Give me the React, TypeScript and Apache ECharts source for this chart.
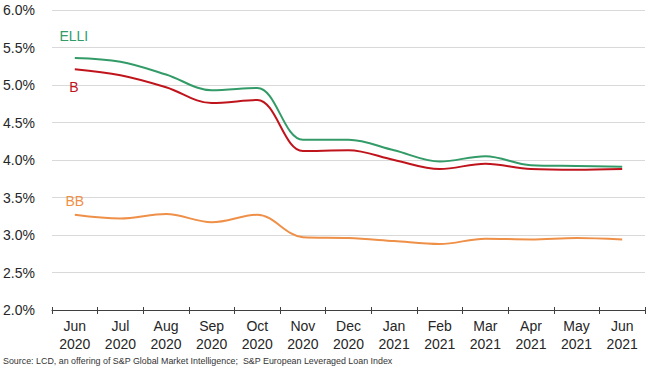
import React, { useEffect, useRef } from "react";
import * as echarts from "echarts";

const categories = [
  "Jun\n2020", "Jul\n2020", "Aug\n2020", "Sep\n2020", "Oct\n2020", "Nov\n2020", "Dec\n2020",
  "Jan\n2021", "Feb\n2021", "Mar\n2021", "Apr\n2021", "May\n2021", "Jun\n2021",
];
const elliValues = [5.36, 5.31, 5.14, 4.93, 4.96, 4.27, 4.27, 4.13, 3.98, 4.05, 3.93, 3.92, 3.91];
const bValues = [5.21, 5.13, 4.97, 4.76, 4.8, 4.12, 4.13, 4.0, 3.88, 3.95, 3.88, 3.87, 3.88];
const bbValues = [3.27, 3.22, 3.28, 3.17, 3.27, 2.97, 2.96, 2.92, 2.88, 2.95, 2.94, 2.96, 2.94];
const seriesNames = ["ELLI", "B", "BB"];
const sourceText =
  "Source: LCD, an offering of S&P Global Market Intelligence;  S&P European Leveraged Loan Index";

const FONT = "Liberation Sans, Arial, sans-serif";
const GREEN = "#339b68";
const RED = "#c0141c";
const ORANGE = "#ef9048";

export default function App() {
  const ref = useRef<HTMLDivElement>(null);
  useEffect(() => {
    if (!ref.current) return;
    const chart = echarts.init(ref.current, undefined, { renderer: "svg" });
    const lineSeries = (name: string, data: number[], color: string) => ({
      name,
      type: "line",
      data,
      smooth: 0.35,
      smoothConstraint: false,
      symbol: "none",
      xAxisIndex: 0,
      lineStyle: { color, width: 2 },
      itemStyle: { color },
    });
    chart.setOption({
      animation: false,
      backgroundColor: "#ffffff",
      grid: { left: 52, right: 7, top: 10, bottom: 62, containLabel: false },
      xAxis: [
        {
          type: "category",
          data: categories,
          boundaryGap: true,
          axisLine: { lineStyle: { color: "#404040", width: 1 } },
          axisTick: { show: true, length: 4, lineStyle: { color: "#404040" } },
          axisLabel: {
            color: "#262626",
            fontSize: 14,
            fontFamily: FONT,
            lineHeight: 18,
            margin: 7,
            interval: 0,
          },
        },
        {
          type: "category",
          data: categories,
          boundaryGap: true,
          position: "bottom",
          axisLine: { show: false },
          axisTick: { show: true, inside: true, length: 3, lineStyle: { color: "#404040" } },
          axisLabel: { show: false },
          splitLine: { show: false },
        },
      ],
      yAxis: {
        type: "value",
        min: 2,
        max: 6,
        interval: 0.5,
        axisLine: { show: false },
        axisTick: { show: false },
        axisLabel: {
          formatter: (v: number) => v.toFixed(1) + "%",
          color: "#262626",
          fontSize: 14,
          fontFamily: FONT,
          margin: 17,
        },
        splitLine: { lineStyle: { color: "#d9d9d9", width: 1 } },
      },
      series: [
        lineSeries("BB", bbValues, ORANGE),
        lineSeries("B", bValues, RED),
        lineSeries("ELLI", elliValues, GREEN),
      ],
    });

    const pE = chart.convertToPixel({ xAxisIndex: 0, yAxisIndex: 0 }, [0, elliValues[0]]) as number[];
    const pB = chart.convertToPixel({ xAxisIndex: 0, yAxisIndex: 0 }, [0, bValues[0]]) as number[];
    const pBB = chart.convertToPixel({ xAxisIndex: 0, yAxisIndex: 0 }, [0, bbValues[0]]) as number[];
    const lbl = (text: string, x: number, y: number, color: string) => ({
      type: "text",
      x,
      y,
      style: {
        text,
        fill: color,
        font: `14px ${FONT}`,
        textAlign: "center",
        textVerticalAlign: "middle",
      },
    });
    chart.setOption({
      graphic: [
        lbl(seriesNames[0], pE[0] - 1, pE[1] - 22, GREEN),
        lbl(seriesNames[1], pB[0] - 1, pB[1] + 18, RED),
        lbl(seriesNames[2], pBB[0], pBB[1] - 14, ORANGE),
        {
          type: "text",
          left: 3,
          top: 356,
          style: {
            text: sourceText,
            fill: "#333333",
            font: `8.9px ${FONT}`,
          },
        },
      ],
    });
    return () => chart.dispose();
  }, []);
  return (
    <div
      ref={ref}
      style={{ position: "fixed", left: 0, top: 0, width: 652, height: 372, background: "#fff" }}
    />
  );
}
